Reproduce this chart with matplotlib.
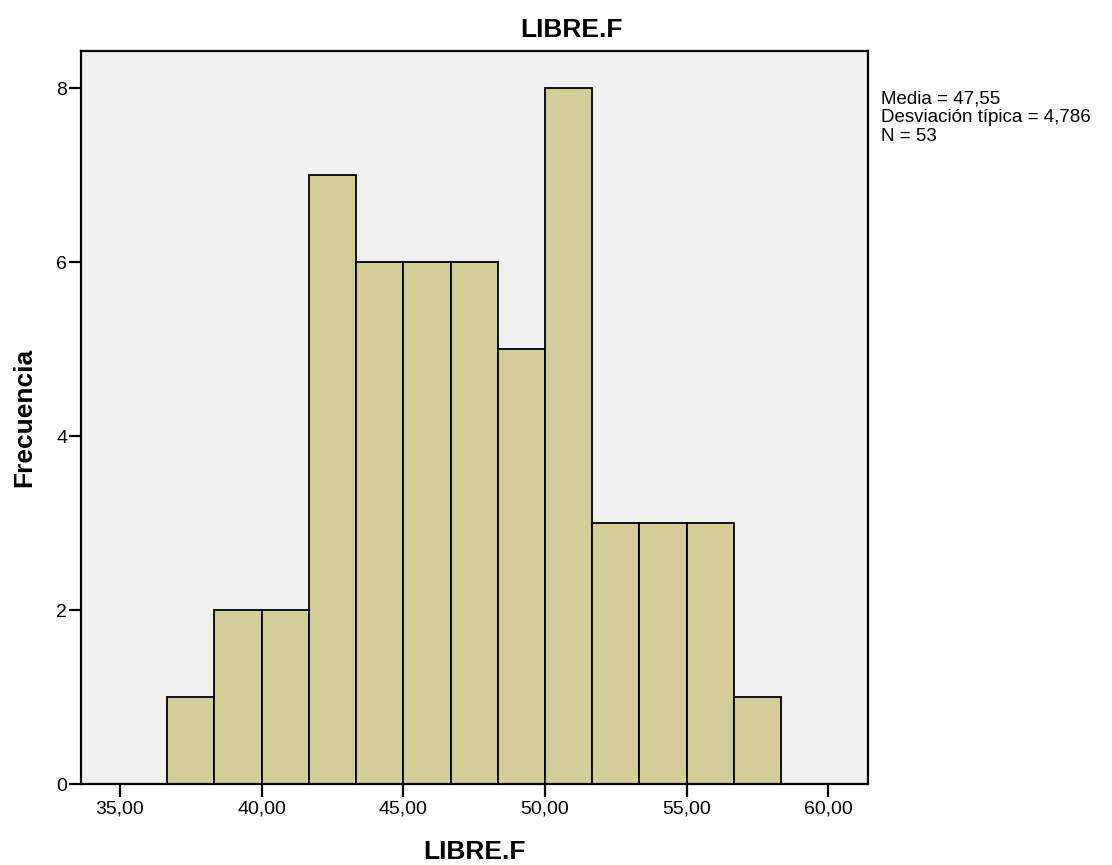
import numpy as np
import matplotlib
matplotlib.use('Agg')
import matplotlib.pyplot as plt

# histogram of LIBRE.F, 13 bins of width 5/3 starting at 36.67
bin_edges = [36.667, 38.333, 40.0, 41.667, 43.333, 45.0, 46.667,
             48.333, 50.0, 51.667, 53.333, 55.0, 56.667, 58.333]
counts = [1, 2, 2, 7, 6, 6, 6, 5, 8, 3, 3, 3, 1]
x_ticks = [35, 40, 45, 50, 55, 60]
x_tick_labels = ['35,00', '40,00', '45,00', '50,00', '55,00', '60,00']
y_ticks = [0, 2, 4, 6, 8]
stats_text = 'Media = 47,55\nDesviación típica = 4,786\nN = 53'

plt.rcParams['font.family'] = ['Liberation Sans', 'DejaVu Sans']

fig = plt.figure(figsize=(11.12, 8.65), dpi=100)
ax = fig.add_axes([0.0728, 0.0936, 0.7078, 0.8474])
ax.set_facecolor('#f0f0f0')

lefts = np.array(bin_edges[:-1])
widths = np.diff(bin_edges)
ax.bar(lefts, counts, width=widths, align='edge', color='#d3ce97',
       edgecolor='black', linewidth=1.3, zorder=2)

ax.set_xlim(33.62, 61.4)
ax.set_ylim(0, 8.425)
ax.set_xticks(x_ticks)
ax.set_xticklabels(x_tick_labels)
ax.set_yticks(y_ticks)
ax.tick_params(direction='out', length=9, width=1.6, labelsize=14, pad=3)
ax.tick_params(axis='y', pad=1)
for s in ax.spines.values():
    s.set_linewidth(1.6)

ax.set_title('LIBRE.F', fontsize=19, fontweight='bold', pad=10, x=0.623)
ax.set_xlabel('LIBRE.F', fontsize=19, fontweight='bold', labelpad=16)
ax.set_ylabel('Frecuencia', fontsize=19, fontweight='bold', labelpad=14)

fig.text(0.792, 0.8956, stats_text, fontsize=13.5, va='top', ha='left',
         linespacing=1.16)

fig.savefig('out.png', dpi=100)
